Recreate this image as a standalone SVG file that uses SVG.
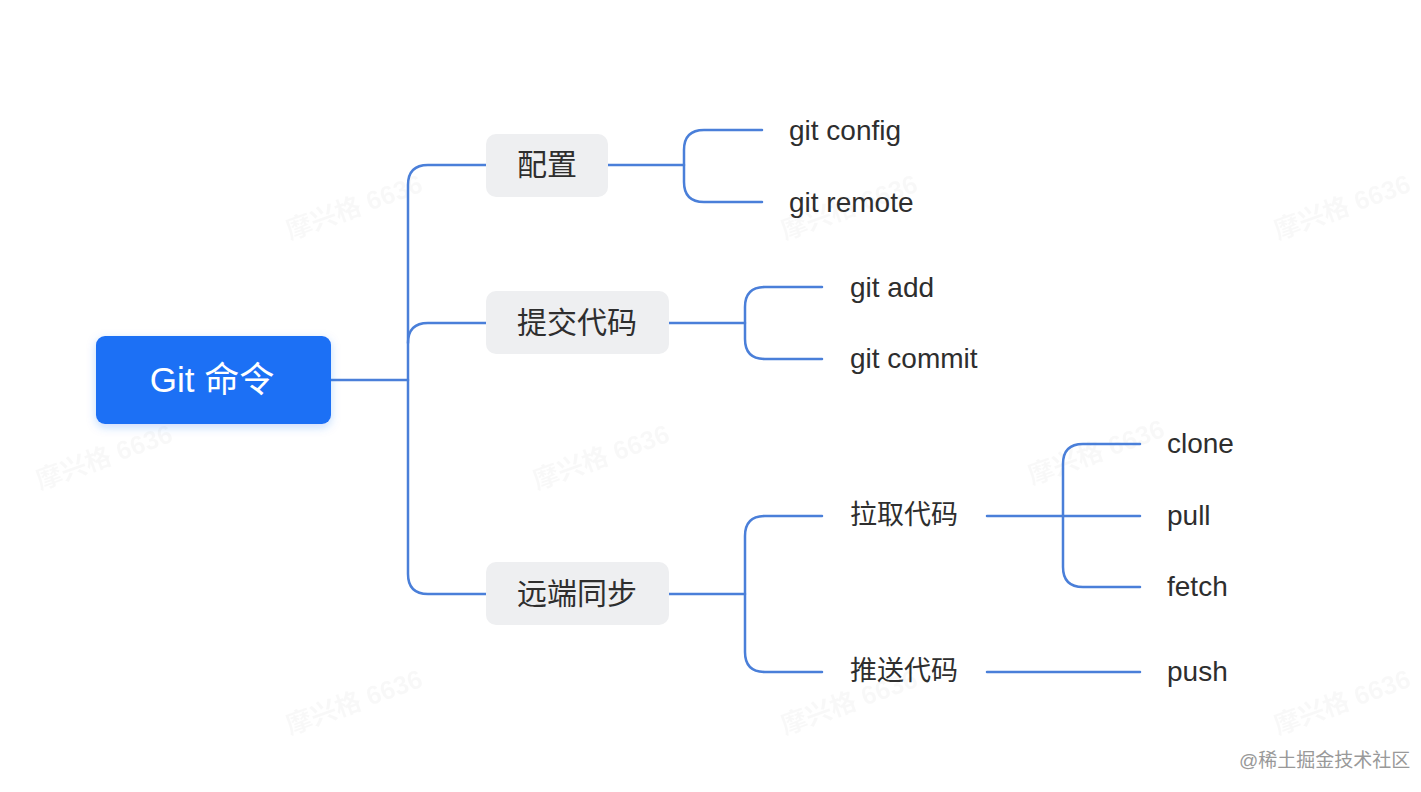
<svg xmlns="http://www.w3.org/2000/svg" width="1421" height="792" viewBox="0 0 1421 792">
<defs>
<style>
.wm{font-family:"Liberation Sans","Noto Sans CJK SC",sans-serif;font-size:26px;font-weight:bold;fill:#000;opacity:0.025}
.ln{fill:none;stroke:#4a7fd9;stroke-width:2.5;stroke-linecap:round;stroke-linejoin:round}
.box{fill:#eeeff1}
.t{font-family:"Liberation Sans","Noto Sans CJK SC",sans-serif;fill:#2e2e2e;dominant-baseline:central}
.cn{font-size:30px}
.cs{font-size:27px}
.en{font-size:28px}
</style>
<filter id="sh" x="-20%" y="-30%" width="140%" height="160%">
<feDropShadow dx="0" dy="3" stdDeviation="5" flood-color="#1f6ff5" flood-opacity="0.25"/>
</filter>
</defs>
<rect width="1421" height="792" fill="#ffffff"/>
<g id="watermarks">
<text class="wm" transform="translate(290,240) rotate(-20)">摩兴格 6636</text>
<text class="wm" transform="translate(785,240) rotate(-20)">摩兴格 6636</text>
<text class="wm" transform="translate(1278,240) rotate(-20)">摩兴格 6636</text>
<text class="wm" transform="translate(40,490) rotate(-20)">摩兴格 6636</text>
<text class="wm" transform="translate(537,490) rotate(-20)">摩兴格 6636</text>
<text class="wm" transform="translate(1032,485) rotate(-20)">摩兴格 6636</text>
<text class="wm" transform="translate(290,735) rotate(-20)">摩兴格 6636</text>
<text class="wm" transform="translate(785,735) rotate(-20)">摩兴格 6636</text>
<text class="wm" transform="translate(1278,735) rotate(-20)">摩兴格 6636</text>
</g>
<g id="connectors">
<path class="ln" d="M331,380 H408"/>
<path class="ln" d="M486,165 H428 Q408,165 408,185 V574 Q408,594 428,594 H486"/>
<path class="ln" d="M408,343 Q408,323 428,323 H486"/>
<path class="ln" d="M608,165 H684"/>
<path class="ln" d="M762,130 H704 Q684,130 684,150 V182 Q684,202 704,202 H762"/>
<path class="ln" d="M669,323 H745"/>
<path class="ln" d="M822,287 H765 Q745,287 745,307 V339 Q745,359 765,359 H822"/>
<path class="ln" d="M669,594 H745"/>
<path class="ln" d="M822,516 H765 Q745,516 745,536 V652 Q745,672 765,672 H822"/>
<path class="ln" d="M987,516 H1140"/>
<path class="ln" d="M1140,444 H1083 Q1063,444 1063,464 V567 Q1063,587 1083,587 H1140"/>
<path class="ln" d="M987,672 H1140"/>
</g>
<g id="root">
<rect x="96" y="336" width="235" height="88" rx="9" fill="#1f6ff5" filter="url(#sh)"/>
<text x="212" y="379" text-anchor="middle" font-family="Liberation Sans,Noto Sans CJK SC,sans-serif" font-size="35" fill="#ffffff" dominant-baseline="central">Git 命令</text>
</g>
<g id="n-config">
<rect class="box" x="486" y="134" width="122" height="63" rx="10"/>
<text class="t cn" x="547" y="164" text-anchor="middle">配置</text>
</g>
<g id="n-commit">
<rect class="box" x="486" y="291" width="183" height="63" rx="10"/>
<text class="t cn" x="577" y="322" text-anchor="middle">提交代码</text>
</g>
<g id="n-remote">
<rect class="box" x="486" y="562" width="183" height="63" rx="10"/>
<text class="t cn" x="577" y="593" text-anchor="middle">远端同步</text>
</g>
<g id="n-gitconfig"><text class="t en" x="789" y="130">git config</text></g>
<g id="n-gitremote"><text class="t en" x="789" y="202">git remote</text></g>
<g id="n-gitadd"><text class="t en" x="850" y="287">git add</text></g>
<g id="n-gitcommit"><text class="t en" x="850" y="358">git commit</text></g>
<g id="n-pull-code"><text class="t cs" x="850" y="515">拉取代码</text></g>
<g id="n-push-code"><text class="t cs" x="850" y="671">推送代码</text></g>
<g id="n-clone"><text class="t en" x="1167" y="443">clone</text></g>
<g id="n-pull"><text class="t en" x="1167" y="515">pull</text></g>
<g id="n-fetch"><text class="t en" x="1167" y="586">fetch</text></g>
<g id="n-push"><text class="t en" x="1167" y="671">push</text></g>
<text x="1239" y="760" font-family="Liberation Sans,Noto Sans CJK SC,sans-serif" font-size="19" fill="#999999" dominant-baseline="central">@稀土掘金技术社区</text>
</svg>
